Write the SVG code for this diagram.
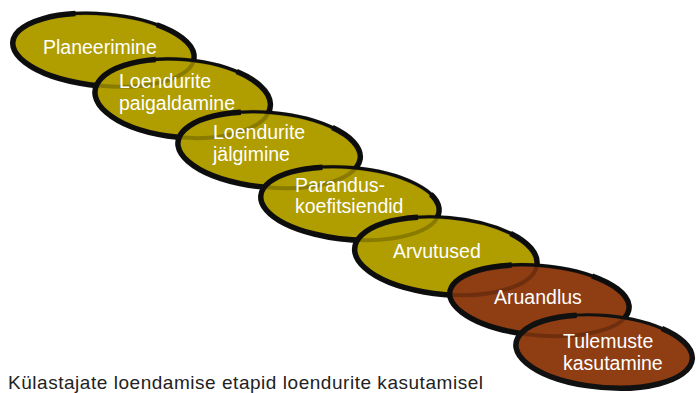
<svg xmlns="http://www.w3.org/2000/svg" width="696" height="393" viewBox="0 0 696 393">
<style>
.gold{fill:#b09d00}
.brown{fill:#8f3d12}
.rim{fill:none;stroke:#111;stroke-width:3.2}
.thick{fill:none;stroke:#111;stroke-width:5.5;stroke-linecap:butt}
.ghost{fill:none;stroke:#000;stroke-width:4;stroke-opacity:0.22}
.lbl{fill:#fff;font-family:"Liberation Sans",Arial,sans-serif;font-size:19.5px}
.cap{fill:#222;font-family:"Liberation Sans",Arial,sans-serif;font-size:19px}
</style>
<rect width="696" height="393" fill="#fff"/>
<g id="connectors"></g>
<g id="n1">
<g transform="translate(103.5,50) rotate(5)">
<ellipse class="gold" rx="91" ry="36"/>
<ellipse class="rim" rx="91" ry="36"/>
<path class="thick" d="M50.9,-29.8 A91,36 0 1 1 -31.1,-33.8"/>
</g>
<text class="lbl" x="43" y="54">Planeerimine</text>
</g>
<g id="n2">
<g transform="translate(182.5,98.5) rotate(5)">
<ellipse class="gold" rx="88" ry="39"/>
</g>
<g transform="translate(103.5,50) rotate(5)"><ellipse class="ghost" rx="91" ry="36"/></g>
<g transform="translate(182.5,98.5) rotate(5)">
<ellipse class="rim" rx="88" ry="39"/>
<path class="thick" d="M51.7,-31.6 A88,39 0 1 1 -30.1,-36.6"/>
</g>
<text class="lbl" x="119" y="88">Loendurite</text>
<text class="lbl" x="119" y="110">paigaldamine</text>
</g>
<g id="n3">
<g transform="translate(269,150) rotate(5)">
<ellipse class="gold" rx="91.5" ry="37.5"/>
</g>
<g transform="translate(182.5,98.5) rotate(5)"><ellipse class="ghost" rx="88" ry="39"/></g>
<g transform="translate(269,150) rotate(5)">
<ellipse class="rim" rx="91.5" ry="37.5"/>
<path class="thick" d="M61.2,-27.9 A91.5,37.5 0 1 1 -31.3,-35.2"/>
</g>
<text class="lbl" x="213" y="139">Loendurite</text>
<text class="lbl" x="213" y="161">jälgimine</text>
</g>
<g id="n4">
<g transform="translate(350,203.5) rotate(5)">
<ellipse class="gold" rx="89.5" ry="36"/>
</g>
<g transform="translate(269,150) rotate(5)"><ellipse class="ghost" rx="91.5" ry="37.5"/></g>
<g transform="translate(350,203.5) rotate(5)">
<ellipse class="rim" rx="89.5" ry="36"/>
<path class="thick" d="M79.7,-16.3 A89.5,36 0 1 1 -30.6,-33.8"/>
</g>
<text class="lbl" x="295" y="192">Parandus-</text>
<text class="lbl" x="295" y="213">koefitsiendid</text>
</g>
<g id="n5">
<g transform="translate(446,256) rotate(5)">
<ellipse class="gold" rx="91.5" ry="38.5"/>
</g>
<g transform="translate(350,203.5) rotate(5)"><ellipse class="ghost" rx="89.5" ry="36"/></g>
<g transform="translate(446,256) rotate(5)">
<ellipse class="rim" rx="91.5" ry="38.5"/>
<path class="thick" d="M62.4,-28.1 A91.5,38.5 0 1 1 -31.3,-36.2"/>
</g>
<text class="lbl" x="393" y="258">Arvutused</text>
</g>
<g id="n6">
<g transform="translate(539.5,300.5) rotate(5)">
<ellipse class="brown" rx="90" ry="35"/>
</g>
<g transform="translate(446,256) rotate(5)"><ellipse class="ghost" rx="91.5" ry="38.5"/></g>
<g transform="translate(539.5,300.5) rotate(5)">
<ellipse class="rim" rx="90" ry="35"/>
<path class="thick" d="M50.3,-29.0 A90,35 0 1 1 -30.8,-32.9"/>
</g>
<text class="lbl" x="494" y="304">Aruandlus</text>
</g>
<g id="n7">
<g transform="translate(604,351.5) rotate(5)">
<ellipse class="brown" rx="88.5" ry="36"/>
</g>
<g transform="translate(539.5,300.5) rotate(5)"><ellipse class="ghost" rx="90" ry="35"/></g>
<g transform="translate(604,351.5) rotate(5)">
<ellipse class="rim" rx="88.5" ry="36"/>
<path class="thick" d="M55.7,-28.0 A88.5,36 0 1 1 -30.3,-33.8"/>
</g>
<text class="lbl" x="563" y="348">Tulemuste</text>
<text class="lbl" x="563" y="370">kasutamine</text>
</g>
<text class="cap" x="8" y="389" textLength="475">Külastajate loendamise etapid loendurite kasutamisel</text>
</svg>
